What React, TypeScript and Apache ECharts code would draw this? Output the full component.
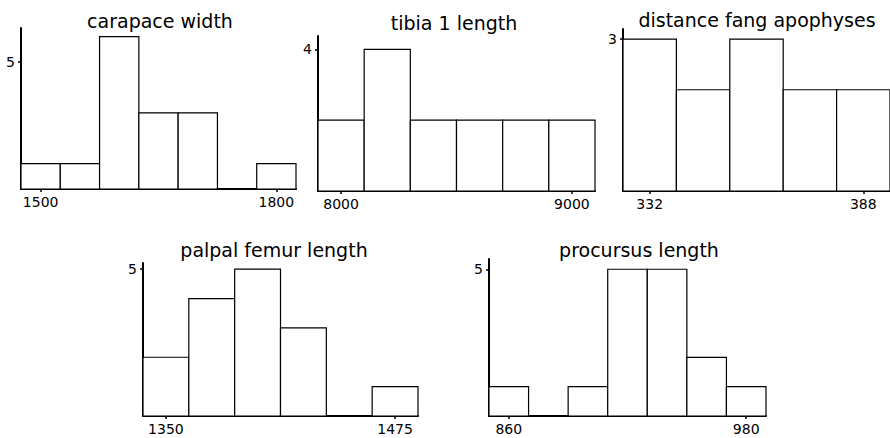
import React, { useEffect, useRef } from "react";
import * as echarts from "echarts";

// ---- data ----
const carapaceCenters = [1500, 1550, 1600, 1650, 1700, 1750, 1800];
const carapaceCounts = [1, 1, 6, 3, 3, 0, 1];
const carapaceBinWidth = 50;
const carapaceXTicks = [1500, 1800];
const carapaceYTicks = [5];

const tibiaCenters = [8000, 8200, 8400, 8600, 8800, 9000];
const tibiaCounts = [2, 4, 2, 2, 2, 2];
const tibiaBinWidth = 200;
const tibiaXTicks = [8000, 9000];
const tibiaYTicks = [4];

const fangCenters = [332, 346, 360, 374, 388];
const fangCounts = [3, 2, 3, 2, 2];
const fangBinWidth = 14;
const fangXTicks = [332, 388];
const fangYTicks = [3];

const femurCenters = [1350, 1375, 1400, 1425, 1450, 1475];
const femurCounts = [2, 4, 5, 3, 0, 1];
const femurBinWidth = 25;
const femurXTicks = [1350, 1475];
const femurYTicks = [5];

const procursusCenters = [860, 880, 900, 920, 940, 960, 980];
const procursusCounts = [1, 0, 1, 5, 5, 2, 1];
const procursusBinWidth = 20;
const procursusXTicks = [860, 980];
const procursusYTicks = [5];

const titles = [
  "carapace width",
  "tibia 1 length",
  "distance fang apophyses",
  "palpal femur length",
  "procursus length",
];

// ---- layout ----
const FONT = "DejaVu Sans";
const panels = [
  { centers: carapaceCenters, counts: carapaceCounts, bw: carapaceBinWidth, xt: carapaceXTicks, yt: carapaceYTicks,
    grid: { left: 21, top: 28, width: 275, height: 161 }, xMin: 1475, xMax: 1825, yMax: 6.34, title: [160, 27.7] },
  { centers: tibiaCenters, counts: tibiaCounts, bw: tibiaBinWidth, xt: tibiaXTicks, yt: tibiaYTicks,
    grid: { left: 318, top: 36, width: 277, height: 155 }, xMin: 7900, xMax: 9100, yMax: 4.38, title: [454, 29] },
  { centers: fangCenters, counts: fangCounts, bw: fangBinWidth, xt: fangXTicks, yt: fangYTicks,
    grid: { left: 623, top: 29, width: 272, height: 162 }, xMin: 325, xMax: 395, yMax: 3.2, title: [757, 26.7] },
  { centers: femurCenters, counts: femurCounts, bw: femurBinWidth, xt: femurXTicks, yt: femurYTicks,
    grid: { left: 143, top: 263, width: 275, height: 153 }, xMin: 1337.5, xMax: 1487.5, yMax: 5.21, title: [274, 256.7] },
  { centers: procursusCenters, counts: procursusCounts, bw: procursusBinWidth, xt: procursusXTicks, yt: procursusYTicks,
    grid: { left: 489, top: 259, width: 277, height: 157 }, xMin: 850, xMax: 990, yMax: 5.35, title: [639, 256] },
];

export default function App() {
  const ref = useRef<HTMLDivElement>(null);
  useEffect(() => {
    if (!ref.current) return;
    const chart = echarts.init(ref.current, null, { renderer: "svg" });
    const axisLine = { show: true, lineStyle: { color: "#000", width: 2 } };
    const fmt = (v: number) => String(v);
    const option: any = {
      animation: false,
      backgroundColor: "#fff",
      grid: panels.map((p) => ({ ...p.grid, containLabel: false })),
      xAxis: panels.map((p, i) => ({
        type: "value",
        gridIndex: i,
        min: p.xMin,
        max: p.xMax,
        axisLine,
        axisTick: { show: true, customValues: p.xt, length: 3, lineStyle: { color: "#000", width: 1.5 } },
        axisLabel: { customValues: p.xt, formatter: fmt, color: "#000", fontFamily: FONT, fontSize: 14, margin: 6 },
        splitLine: { show: false },
      })),
      yAxis: panels.map((p, i) => ({
        type: "value",
        gridIndex: i,
        min: 0,
        max: p.yMax,
        axisLine,
        axisTick: { show: true, customValues: p.yt, length: 3, lineStyle: { color: "#000", width: 1.5 } },
        axisLabel: { customValues: p.yt, formatter: fmt, color: "#000", fontFamily: FONT, fontSize: 14, margin: 6 },
        splitLine: { show: false },
      })),
      series: panels.map((p, i) => ({
        type: "custom",
        xAxisIndex: i,
        yAxisIndex: i,
        data: p.centers
          .map((c, k) => [c, p.counts[k]])
          .filter((d) => d[1] > 0),
        renderItem: (params: any, api: any) => {
          const c = api.value(0);
          const v = api.value(1);
          const p0 = api.coord([c - p.bw / 2, v]);
          const p1 = api.coord([c + p.bw / 2, 0]);
          return {
            type: "rect",
            shape: { x: p0[0], y: p0[1], width: p1[0] - p0[0], height: p1[1] - p0[1] },
            style: { fill: "#fff", stroke: "#000", lineWidth: 1.2 },
          };
        },
      })),
      graphic: panels.map((p, i) => ({
        type: "text",
        x: p.title[0],
        y: p.title[1] - 6.5,
        style: {
          text: titles[i],
          fontFamily: FONT,
          fontSize: 19,
          fill: "#000",
          textAlign: "center",
          textVerticalAlign: "middle",
        },
      })),
    };
    chart.setOption(option);
    return () => chart.dispose();
  }, []);
  return (
    <div
      ref={ref}
      style={{ position: "absolute", left: 0, top: 0, width: 890, height: 438, background: "#fff" }}
    />
  );
}
